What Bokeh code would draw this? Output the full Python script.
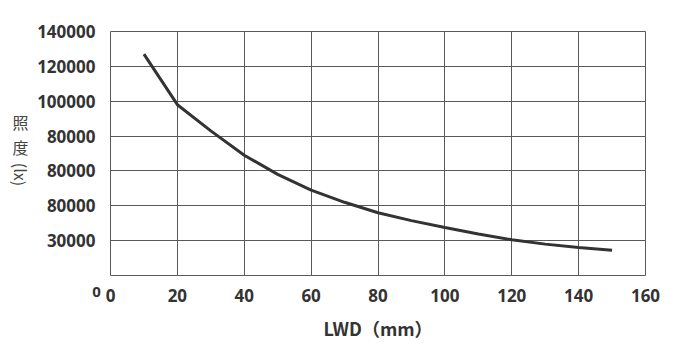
from bokeh.plotting import figure
from bokeh.models import Range1d, FixedTicker, Label
from bokeh.embed import file_html
from bokeh.resources import INLINE

# data
lwd = [10, 20, 30, 40, 50, 60, 70, 80, 90, 100, 110, 120, 130, 140, 150]
lux = [127000, 98000, 83000, 69000, 58000, 49000, 42000, 36000, 31500, 27500, 23800, 20500, 18000, 16000, 14500]

x_ticks = [0, 20, 40, 60, 80, 100, 120, 140, 160]
y_ticks = [0, 20000, 40000, 60000, 80000, 100000, 120000, 140000]
y_tick_labels = ["", "30000", "80000", "80000", "80000", "100000", "120000", "140000"]
y_zero_label = "0"
x_title = "LWD（mm）"
y_title_upright = "照\n度"
y_title_rotated = "(lx)"

FONT = "Noto Sans"
CJK = "Noto Sans CJK JP"
TXT = "#333333"
GRID = "#5a5a5a"

p = figure(width=670, height=343, output_backend="svg", toolbar_location=None,
           x_range=Range1d(0, 160), y_range=Range1d(0, 140000),
           min_border_left=110, min_border_right=25, min_border_top=31, min_border_bottom=68)

p.line(lwd, lux, line_color="#333333", line_width=3)

p.xaxis.ticker = FixedTicker(ticks=x_ticks)
p.yaxis.ticker = FixedTicker(ticks=y_ticks)
p.yaxis.major_label_overrides = {t: l for t, l in zip(y_ticks, y_tick_labels)}

for ax in (p.xaxis[0], p.yaxis[0]):
    ax.axis_line_color = None
    ax.major_tick_line_color = None
    ax.minor_tick_line_color = None
    ax.major_label_text_font = FONT
    ax.major_label_text_font_style = "bold"
    ax.major_label_text_font_size = "17px"
    ax.major_label_text_color = TXT

p.yaxis.major_label_standoff = 9
p.xaxis.major_label_standoff = 7

p.xaxis.axis_label = x_title
p.xaxis.axis_label_text_font = CJK
p.xaxis.axis_label_text_font_style = "bold"
p.xaxis.axis_label_text_font_size = "18px"
p.xaxis.axis_label_text_color = TXT
p.xaxis.axis_label_standoff = 10

p.grid.grid_line_color = GRID
p.grid.grid_line_width = 1
p.outline_line_color = GRID
p.outline_line_width = 1

# side-panel labels (positioned through the data scales, drawn outside the frame)
p.add_layout(Label(x=0, y=0, x_offset=-14, y_offset=-16, text=y_zero_label,
                   text_font=FONT, text_font_style="bold", text_font_size="15px",
                   text_color=TXT, text_align="center", text_baseline="middle"), "above")

p.add_layout(Label(x=0, y=0, x_offset=-90, y_offset=141, text=y_title_upright,
                   text_font=CJK, text_font_size="16px", text_line_height=1.05,
                   text_color="#444444", text_align="center", text_baseline="middle"), "left")
p.add_layout(Label(x=0, y=0, x_offset=-90, y_offset=101, text=y_title_rotated, angle=-1.5708,
                   text_font=CJK, text_font_size="16px",
                   text_color="#444444", text_align="center", text_baseline="middle"), "right")

p.background_fill_color = "white"
p.border_fill_color = "white"

open("out.html", "w").write(file_html(p, INLINE))
